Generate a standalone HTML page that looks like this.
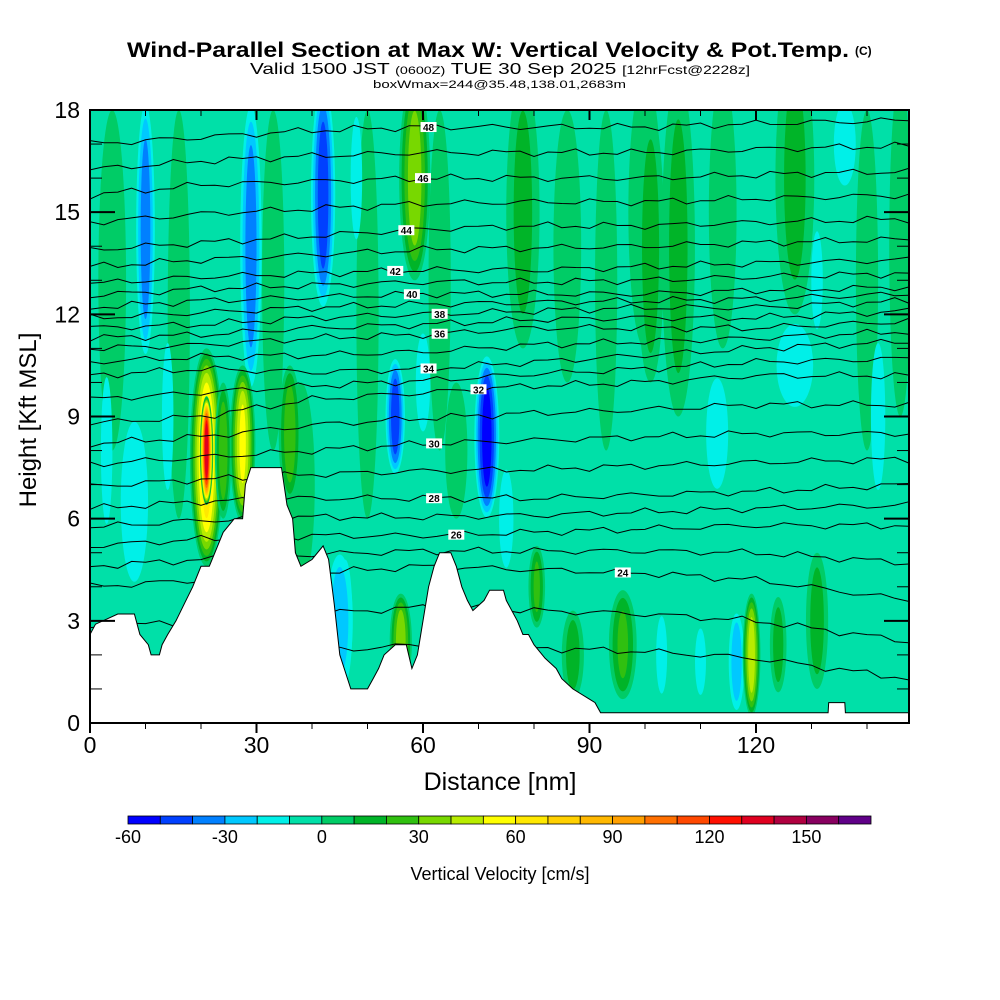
<!DOCTYPE html>
<html><head><meta charset="utf-8"><style>
html,body{margin:0;padding:0;background:#fff;}
svg{display:block;font-family:"Liberation Sans",sans-serif;}
</style></head><body>
<svg id="chart" width="1000" height="1000" viewBox="0 0 1000 1000">
<text x="127" y="57" font-size="21" font-weight="bold" textLength="722" lengthAdjust="spacingAndGlyphs">Wind-Parallel Section at Max W: Vertical Velocity &amp; Pot.Temp.</text>
<text x="855" y="55" font-size="12" font-weight="bold">(C)</text>
<text x="250" y="74" font-size="16" textLength="500" lengthAdjust="spacingAndGlyphs">Valid 1500 JST <tspan font-size="11">(0600Z)</tspan> TUE 30 Sep 2025 <tspan font-size="12">[12hrFcst@2228z]</tspan></text>
<text x="373" y="88" font-size="11" textLength="253" lengthAdjust="spacingAndGlyphs">boxWmax=244@35.48,138.01,2683m</text>
<defs><clipPath id="pc"><rect x="90" y="110" width="819" height="613"/></clipPath></defs>
<g id="plot" clip-path="url(#pc)"></g>
<g id="axes"></g>
<g id="cbar"></g>
<text x="36" y="420" font-size="24" transform="rotate(-90 36 420)" text-anchor="middle">Height [Kft MSL]</text>
<text x="500" y="790" font-size="25" text-anchor="middle">Distance [nm]</text>
<text x="500" y="880" font-size="18" text-anchor="middle">Vertical Velocity [cm/s]</text>
</svg>
<script>
// ---- data ----
const binColors=["#0000ff","#0040ff","#0080ff","#00c8ff","#00f0e8","#00e0a8","#00cc66","#00b428","#30c010","#78d800","#b8ec00","#ffff00","#ffe800","#ffd000","#ffb800","#ffa000","#ff7000","#ff4800","#ff1000","#e00020","#b00040","#880060","#600088"];
const cbarTicks=[-60,-30,0,30,60,90,120,150];
const xTicks=[0,30,60,90,120];
const yTicks=[0,3,6,9,12,15,18];
// w features: distance nm, height kft, half-width nm, half-height kft, peak w cm/s
const featDist=[4,16,33,38,50,63,66,78,86,93,100,106,114,127,140,146,  8,3,14,46,48,60,75,113,127,136,131,142,  10,29,42,55,71.5,45,116.5,110,103, 21,27.5,24,36,58.5,56,119.2,96,80.5,87,124,131,101,21];
const featHgt =[13,12,13,7,12,13,8,15,14,13,15,14,15,16,13,14, 6.5,8,9,3,16,10,6,8.5,10.5,17,13,9, 14.5,14,15.5,9,8.4,3,1.8,1.8,2, 7.8,8.2,8,8.5,16,2.4,2,2.3,4,2,2.3,3,14,8];
const featHw  =[2.5,2,2,2.5,2,2,2,3,2.5,2,3,3,2.5,3.5,2,2, 4,2,2,2.5,2,2.5,2.5,3,5,3,2,2.5, 2,2.3,2.5,2,2.5,3,1.8,1.5,1.5, 3,2.3,1.5,2,2.8,2,1.6,2.5,1.5,2,1.5,2,2.5,1.2];
const featHh  =[5,6,5,3,6,5,2,4,4,5,4,5,4,4,5,5, 3,3,3,2.5,2.5,2,2,2,1.5,1.5,2,3, 4,4.5,3.5,1.8,2.5,2.2,1.6,1.2,1.4, 3.2,2.3,2,2,3,1.4,1.8,1.6,1.2,1.3,1.4,2,4,1.6];
const featVal =[8,8,8,8,8,8,8,16,8,8,8,16,8,16,8,8, -18,-15,-15,-15,-15,-15,-15,-20,-20,-20,-15,-15, -40,-40,-50,-50,-60,-30,-30,-20,-20, 70,55,30,30,40,40,50,25,25,18,18,18,18,140];
// terrain
const terDist=[0,1,5,8,9,10.5,11,12.5,13,14,15.5,17,18.5,20,21.5,22.5,24,26,27.5,28,29,34.5,35.5,36.5,37,38,40,42,43,44,45,46,47,50,51,52,53,55,57,58,59,60,61,62,63,65,66,67,68,69,71,72,74.5,75,77,78,79,80,82,84,85,87,90,91,92,133,133.1,136,136.1,147.6];
const terHgt =[2.6,2.9,3.2,3.2,2.6,2.3,2.0,2.0,2.3,2.6,3.0,3.5,4.0,4.6,4.6,5.0,5.6,6.0,6.0,7.0,7.5,7.5,6.4,6.0,5.0,4.6,4.8,5.2,4.8,3.5,2.0,1.5,1.0,1.0,1.3,1.6,2.0,2.3,2.3,1.6,2.0,3.0,4.0,4.6,5.0,5.0,4.6,4.0,3.6,3.3,3.6,3.9,3.9,3.6,3.0,2.6,2.6,2.3,1.9,1.6,1.3,1.0,0.7,0.6,0.3,0.3,0.6,0.6,0.3,0.3];
// potential temperature contours (even levels), heights at node distances
const thNodes=[0,20,40,60,80,100,120,147.6];
const thLevels=[24,26,28,30,32,34,36,38,40,42,44,46,48];
const thHeights=[
[4.0,4.2,4.4,4.6,4.5,4.4,4.2,3.6],
[5.2,5.4,5.5,5.5,5.6,5.7,5.8,5.8],
[6.3,6.5,6.6,6.6,6.6,6.7,6.8,7.0],
[7.6,7.8,8.0,8.2,8.3,8.4,8.5,8.5],
[8.8,9.0,9.5,9.7,9.9,10.0,10.2,10.2],
[10.2,10.4,10.3,10.4,10.6,10.8,11.0,11.2],
[11.0,11.1,11.3,11.4,11.6,11.6,11.6,11.8],
[11.6,11.7,11.9,12.0,12.1,12.2,12.2,12.4],
[12.2,12.4,12.5,12.6,12.6,12.6,12.7,12.8],
[12.9,13.1,13.2,13.3,13.3,13.4,13.5,13.6],
[13.9,14.1,14.3,14.5,14.6,14.6,14.7,14.8],
[15.5,15.8,15.9,16.0,16.0,16.0,16.1,16.2],
[17.0,17.2,17.4,17.5,17.5,17.5,17.6,17.7]];
const thLabelDist=[96,66,62,62,70,61,63,63,58,55,57,60,61];

// ---- scales ----
const X0=90,X1=909,Y0=723,Y1=110;
const xs=d=>X0+d*(166.5/30);
const ys=h=>Y0-h*((Y0-Y1)/18);
const NS="http://www.w3.org/2000/svg";
function mk(tag,parent,attrs){const e=document.createElementNS(NS,tag);for(const k in attrs)e.setAttribute(k,attrs[k]);parent.appendChild(e);return e;}
const plot=document.getElementById('plot');
const bg=mk('rect',plot,{x:X0,y:Y1,width:X1-X0,height:Y0-Y1,fill:binColors[5]});


// w features
for(let i=0;i<featVal.length;i++){
  const v=featVal[i];
  const ths=[];
  if(v>0){for(let t=0;t<v;t+=10)ths.push(t);}else{for(let t=-10;t>v;t-=10)ths.push(t);}
  if(v<0&&ths.length===0)ths.push(-10);
  ths.forEach(t=>{
    const s=Math.pow(Math.max(0.1,1-t/v),0.6);
    const idx=t>=0?Math.round((t+60)/10):Math.round((t+60)/10)-1;
    const e=mk('ellipse',plot,{cx:xs(featDist[i]),cy:ys(featHgt[i]),rx:(xs(featHw[i])-X0)*s,ry:(ys(0)-ys(featHh[i]))*Math.sqrt(s),fill:binColors[idx]});
    
    
  });
}
// theta contours (even + odd midlines)
function interp(arr,d){for(let k=0;k<thNodes.length-1;k++){if(d<=thNodes[k+1]){const f=(d-thNodes[k])/(thNodes[k+1]-thNodes[k]);return arr[k]+f*(arr[k+1]-arr[k]);}}return arr[arr.length-1];}
let seed=0;
function drawLine(arr,name){
  seed++;
  let p='';for(let d=0;d<=148;d+=2.5){const w=0.07*Math.sin(d*0.53+seed*1.3)+0.05*Math.sin(d*1.31+seed*2.1);p+=(p?'L':'M')+xs(d).toFixed(1)+','+ys(interp(arr,d)+w).toFixed(1);}
  const l=mk('path',plot,{d:p,fill:'none',stroke:'#000','stroke-width':1});
  
  
}
for(let j=0;j<thLevels.length;j++){
  drawLine(thHeights[j],'theta-contour-'+thLevels[j]);
  if(j<thLevels.length-1){const mid=thHeights[j].map((h,k)=>(h+thHeights[j+1][k])/2);drawLine(mid,'theta-contour-'+(thLevels[j]+1));}
}
{const low=thHeights[0].map(h=>h-1.2);drawLine(low,'theta-contour-23');const low2=thHeights[0].map(h=>h-2.3);drawLine(low2,'theta-contour-22');}
// labels
for(let j=0;j<thLevels.length;j++){
  const d=thLabelDist[j],h=interp(thHeights[j],d);
  const g=mk('g',plot,{});
  
  
  mk('rect',g,{x:xs(d)-8,y:ys(h)-5,width:16,height:10,fill:'#fff'});
  const t=mk('text',g,{x:xs(d),y:ys(h)+4,'font-size':10,'font-weight':'bold','text-anchor':'middle'});t.textContent=thLevels[j];
}
// terrain
let tp='M'+xs(0)+','+Y0;
for(let i=0;i<terDist.length;i++){tp+='L'+xs(terDist[i]).toFixed(1)+','+ys(terHgt[i]).toFixed(1);}
tp+='L'+X1+','+Y0+'Z';
const ter=mk('path',plot,{d:tp,fill:'#fff',stroke:'#000','stroke-width':1});


// axes
const ax=document.getElementById('axes');
const fr=mk('rect',ax,{x:X0,y:Y1,width:X1-X0,height:Y0-Y1,fill:'none',stroke:'#000','stroke-width':2});


for(let d=0;d<=147;d+=10){const maj=d%30===0;const L=maj?10:6;
  mk('line',ax,{x1:xs(d),x2:xs(d),y1:Y0,y2:Y0+L,stroke:'#000','stroke-width':maj?2:1});
  mk('line',ax,{x1:xs(d),x2:xs(d),y1:Y1,y2:Y1+L,stroke:'#000','stroke-width':maj?2:1});}
for(let h=0;h<=18;h++){const maj=h%3===0;const L=maj?25:12;
  mk('line',ax,{x1:X0,x2:X0+L,y1:ys(h),y2:ys(h),stroke:'#000','stroke-width':maj?2:1});
  mk('line',ax,{x1:X1-L,x2:X1,y1:ys(h),y2:ys(h),stroke:'#000','stroke-width':maj?2:1});}
xTicks.forEach(v=>{const t=mk('text',ax,{x:xs(v),y:753,'font-size':23,'text-anchor':'middle'});t.textContent=v;
  
  });
yTicks.forEach(v=>{const t=mk('text',ax,{x:80,y:ys(v)+8,'font-size':23,'text-anchor':'end'});t.textContent=v;
  
  });
// colorbar
const cb=document.getElementById('cbar');
const CB0=128,CBW=(871-128)/binColors.length;
binColors.forEach((c,i)=>{const r=mk('rect',cb,{x:CB0+i*CBW,y:816,width:CBW,height:8,fill:c,stroke:'#000','stroke-width':0.8});
  
  });
cbarTicks.forEach(v=>{const t=mk('text',cb,{x:CB0+(v+60)/10*CBW,y:843,'font-size':18,'text-anchor':'middle'});t.textContent=v;
  
  });
</script>
</body></html>
